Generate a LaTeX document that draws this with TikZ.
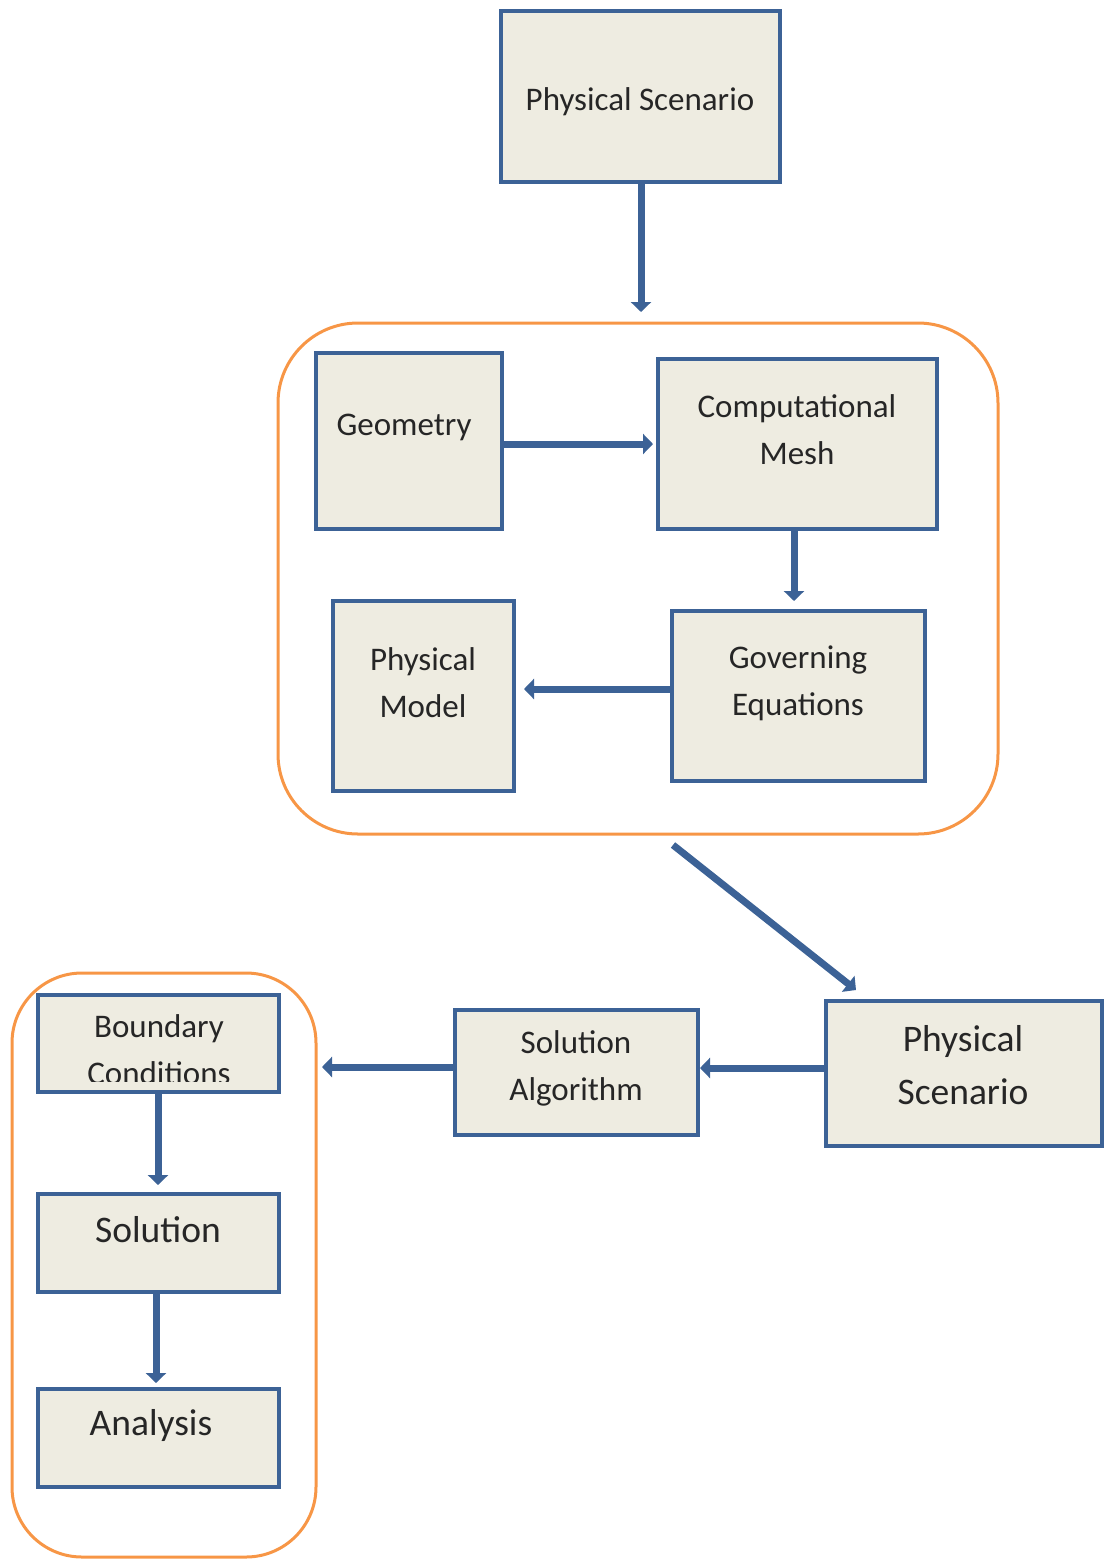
\documentclass[tikz,border=0pt]{standalone}
\usepackage{fontspec}
\setmainfont{Carlito}
\usetikzlibrary{arrows.meta}
\definecolor{boxblue}{HTML}{3C6296}
\definecolor{boxfill}{HTML}{EEECE1}
\definecolor{grporange}{HTML}{F79646}
\tikzset{
  stepbox/.style={draw=boxblue, fill=boxfill, line width=3.2pt, inner sep=0pt},
  grp/.style={draw=grporange, line width=3pt, inner sep=0pt},
  lbl/.style={text=black!85, align=center, font=\fontsize{33}{47}\selectfont},
  biglbl/.style={text=black!85, align=center, font=\fontsize{37.5}{53}\selectfont},
  flow/.style={draw=boxblue, line width=7pt, -{Triangle[width=20pt,length=10pt]}},
}
\newcommand{\mybox}[5]{% name, x1,y1,x2,y2
  \node[stepbox, minimum width={#4-#2}, minimum height={#5-#3}] (#1) at ({(#2+#4)/2},{(#3+#5)/2}) {};}
\begin{document}
\begin{tikzpicture}[x=1pt,y=-1pt]
\useasboundingbox (0,0) rectangle (1112,1559);
% group frames
\draw[grp, rounded corners=80pt] (278,323) rectangle (998,834);
\draw[grp, rounded corners=70pt] (12,973) rectangle (316,1557);
% boxes
\mybox{ps}{501}{11}{780}{182}
\mybox{geo}{316}{353}{502}{529}
\mybox{mesh}{658}{359}{937}{529}
\mybox{pm}{333}{601}{514}{791}
\mybox{gov}{672}{611}{925}{781}
\mybox{ps2}{826}{1001}{1102}{1146}
\mybox{alg}{455}{1010}{698}{1135}
\mybox{bc}{38}{995}{279}{1092}
\mybox{sol}{38}{1194}{279}{1292}
\mybox{ana}{38}{1389}{279}{1487}
% labels
\node[lbl] (tps) at (640,102) {Physical Scenario};
\node[lbl] (tgeo) at (404,427) {Geometry};
\node[lbl] (tmesh) at (797,430) {Computational\\Mesh};
\node[lbl] (tpm) at (423,683) {Physical\\Model};
\node[lbl] (tgov) at (798,683) {Governing\\Equations};
\node[lbl] (talg) at (576,1068) {Solution\\Algorithm};
\node[biglbl] (tps2) at (963,1065) {Physical\\Scenario};
\begin{scope}
  \clip (40,997) rectangle (277,1081);
  \node[lbl, text depth=0pt] (tbc) at (159,1050) {Boundary\\Conditions};
\end{scope}
\node[biglbl] (tsol) at (158,1230) {Solution};
\node[biglbl] (tana) at (151,1425) {Analysis};
% connectors
\coordinate (a1e) at (641,312);
\draw[flow] (ps.south -| a1e) -- (a1e);
\coordinate (a2e) at (653,444);
\draw[flow] (geo.east |- a2e) -- (a2e);
\coordinate (a3e) at (794,601);
\draw[flow] (mesh.south -| a3e) -- (a3e);
\coordinate (a4e) at (524,689);
\draw[flow] (gov.west |- a4e) -- (a4e);
\coordinate (a5s) at (673,845);
\coordinate (a5e) at (856,990);
\draw[flow] (a5s) -- (a5e);
\coordinate (a6e) at (700,1068);
\draw[flow] (ps2.west |- a6e) -- (a6e);
\coordinate (a7e) at (322,1067);
\draw[flow] (alg.west |- a7e) -- (a7e);
\coordinate (a8e) at (158,1185);
\draw[flow] (bc.south -| a8e) -- (a8e);
\coordinate (a9e) at (156,1383);
\draw[flow] (sol.south -| a9e) -- (a9e);
\end{tikzpicture}
\end{document}
